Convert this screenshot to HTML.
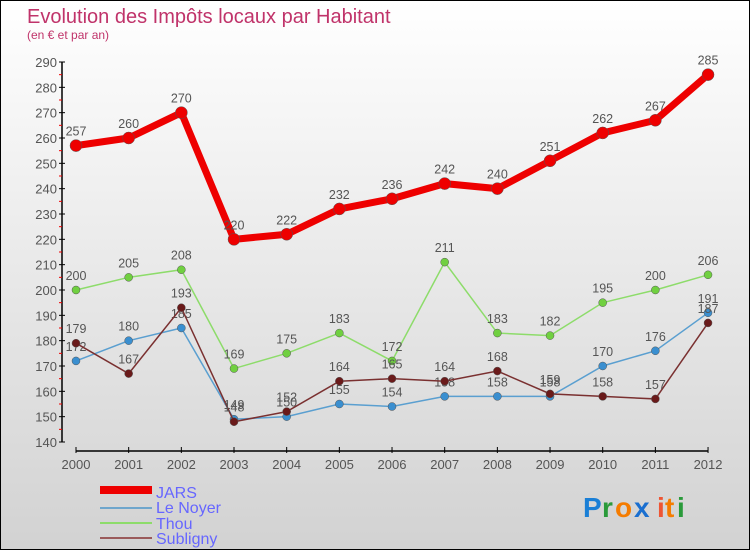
<!DOCTYPE html>
<html><head><meta charset="utf-8"><style>
body{margin:0}
#c{width:748px;height:548px;border:1px solid #000;background:linear-gradient(#fff,#d2d2d2);position:relative;font-family:"Liberation Sans",sans-serif;overflow:hidden}
</style></head><body>
<div id="c">
<svg id="s" width="748" height="548" style="position:absolute;left:0;top:0">
<text x="26" y="22" font-size="20" fill="#c0336a">Evolution des Impôts locaux par Habitant</text>
<text x="26" y="38" font-size="12" fill="#c0336a">(en € et par an)</text>
<g id="axes"></g><g id="series"></g>
<g>
<rect x="99" y="485" width="52" height="8" fill="#e00"/>
<rect x="99" y="506" width="52" height="2" fill="#6fa6cc"/>
<rect x="99" y="521" width="52" height="2" fill="#8ddc6a"/>
<rect x="99" y="536" width="52" height="2" fill="#9a5a5a"/>
<text x="155" y="497" font-size="16" fill="#6666ff">JARS</text>
<text x="155" y="512" font-size="16" fill="#6666ff">Le Noyer</text>
<text x="155" y="528" font-size="16" fill="#6666ff">Thou</text>
<text x="155" y="543" font-size="16" fill="#6666ff">Subligny</text>
</g>
<g font-size="28" font-weight="bold">
<text x="582" y="516" fill="#1a7fd6">P</text><text x="601" y="516" fill="#2a9a3a">r</text><text x="614" y="516" fill="#f57c00">o</text><text x="633" y="516" fill="#1a6fd0">x</text><text x="656" y="516" fill="#e53">i</text><text x="664" y="516" fill="#f57c00">t</text><text x="676" y="516" fill="#2a9a3a">i</text>
</g>
</svg></div>
<script>
const years=["2000","2001","2002","2003","2004","2005","2006","2007","2008","2009","2010","2011","2012"];
const jars=[257,260,270,220,222,232,236,242,240,251,262,267,285];
const leNoyer=[172,180,185,149,150,155,154,158,158,158,170,176,191];
const thou=[200,205,208,169,175,183,172,211,183,182,195,200,206];
const subligny=[179,167,193,148,152,164,165,164,168,159,158,157,187];
const yTicks=[140,150,160,170,180,190,200,210,220,230,240,250,260,270,280,290];
const NS="http://www.w3.org/2000/svg";
function X(i){return 75+i*52.67;}
function Y(v){return 441-(v-140)*380/150;}
function mk(tag,at,par){const e=document.createElementNS(NS,tag);for(const k in at)e.setAttribute(k,at[k]);par.appendChild(e);return e;}
const ax=document.getElementById('axes'),sg=document.getElementById('series');
let l=mk('line',{x1:61,y1:Y(290),x2:61,y2:Y(140),stroke:'#000','stroke-width':1.5},ax);


l=mk('line',{x1:75,y1:450,x2:707,y2:450,stroke:'#000','stroke-width':1.5},ax);


yTicks.forEach((v,i)=>{mk('line',{x1:58,x2:64,y1:Y(v),y2:Y(v),stroke:'#000'},ax);
if(i<yTicks.length-1)mk('line',{x1:58,x2:61,y1:Y(v+5),y2:Y(v+5),stroke:'#e00'},ax);
const t=mk('text',{x:56,y:Y(v)+5,'text-anchor':'end','font-size':13,fill:'#555'},ax);t.textContent=v;

});
years.forEach((y,i)=>{mk('line',{x1:X(i),x2:X(i),y1:446,y2:452,stroke:'#000'},ax);
const t=mk('text',{x:X(i),y:468,'text-anchor':'middle','font-size':13,fill:'#555'},ax);t.textContent=y;

});
function draw(d,name,col,dot,w,r){
const g=mk('g',{},sg);


mk('polyline',{points:d.map((v,i)=>X(i)+','+Y(v)).join(' '),fill:'none',stroke:col,'stroke-width':w},g);
d.forEach((v,i)=>{const c=mk('circle',{cx:X(i),cy:Y(v),r:r,fill:dot,stroke:'#555','stroke-width':0.5},g);


const t=mk('text',{x:X(i),y:Y(v)-10,'text-anchor':'middle','font-size':12.5,fill:'#555'},g);t.textContent=v;

});}
draw(leNoyer,'le-noyer','#5a9fd0','#3a8fd0',1.5,4);
draw(thou,'thou','#8ddc6a','#70d040',1.5,4);
draw(subligny,'subligny','#7a3030','#6a1a1a',1.5,4);
draw(jars,'jars','#e00','#e00',7,6);
</script>
</body></html>
